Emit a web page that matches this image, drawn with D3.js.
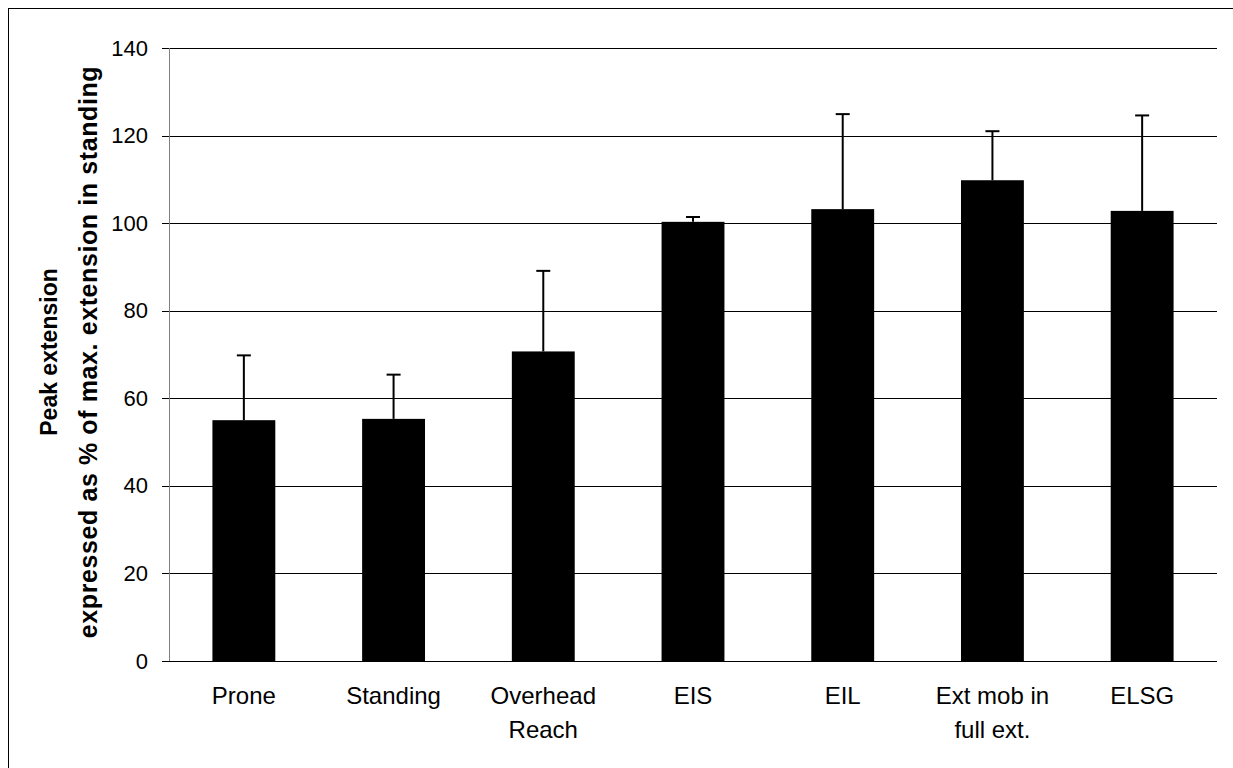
<!DOCTYPE html>
<html>
<head>
<meta charset="utf-8">
<script src="https://cdn.jsdelivr.net/npm/d3@7"></script>
<style>
  html, body { margin: 0; padding: 0; background: #fff; }
  svg { display: block; font-family: "Liberation Sans", Arial, sans-serif; }
</style>
</head>
<body>
<svg id="chart" width="1233" height="768"></svg>
<script>
// Peak extension per task, mean with upper SD
const categories = [["Prone"], ["Standing"], ["Overhead", "Reach"], ["EIS"], ["EIL"], ["Ext mob in", "full ext."], ["ELSG"]];
const means = [55.0, 55.3, 70.7, 100.3, 103.2, 109.8, 102.8];
const upperErr = [69.8, 65.4, 89.1, 101.4, 124.9, 121.0, 124.6];
const yTicks = [0, 20, 40, 60, 80, 100, 120, 140];
const yTitle = ["Peak extension", "expressed as % of max. extension in standing"];

const svg = d3.select("#chart");
const W = 1233, H = 768;
const plot = { left: 169, right: 1217, top: 48, bottom: 661 };

// outer frame
svg.append("rect")
  .attr("x", 8.5).attr("y", 8.5)
  .attr("width", W + 20).attr("height", H + 20)
  .attr("fill", "none").attr("stroke", "#000").attr("stroke-width", 1);

const keys = categories.map((c, i) => i);
const x = d3.scaleBand().domain(keys).range([plot.left, plot.right])
  .paddingInner(0.58).paddingOuter(0.29);
const y = d3.scaleLinear().domain([0, 140]).range([plot.bottom, plot.top]);

// gridlines with left tick stubs
const yAxis = d3.axisLeft(y).tickValues(yTicks)
  .tickSize(-(plot.right - plot.left))
  .tickFormat(d3.format("d"));
const gy = svg.append("g").attr("transform", `translate(${plot.left},0)`).call(yAxis);
gy.select(".domain").remove();
gy.selectAll(".tick line")
  .attr("x1", -7).attr("x2", plot.right - plot.left)
  .attr("stroke", "#000").attr("stroke-width", 1)
  .attr("shape-rendering", "crispEdges");
gy.selectAll(".tick text")
  .attr("fill", "#000").style("font-size", "22px")
  .attr("x", -21);

// vertical axis line
svg.append("line")
  .attr("x1", plot.left + 0.5).attr("x2", plot.left + 0.5)
  .attr("y1", plot.top).attr("y2", plot.bottom)
  .attr("stroke", "#808080").attr("stroke-width", 1);

// bars
svg.append("g").selectAll("rect").data(means).join("rect")
  .attr("x", (d, i) => x(i))
  .attr("width", x.bandwidth())
  .attr("y", d => y(d))
  .attr("height", d => y(0) - y(d))
  .attr("fill", "#000");

// error bars (upper only)
const eb = svg.append("g").attr("stroke", "#000").attr("stroke-width", 2);
means.forEach((m, i) => {
  const cx = x(i) + x.bandwidth() / 2;
  eb.append("line").attr("x1", cx).attr("x2", cx).attr("y1", y(m)).attr("y2", y(upperErr[i]));
  eb.append("line").attr("x1", cx - 7).attr("x2", cx + 7).attr("y1", y(upperErr[i])).attr("y2", y(upperErr[i]));
});

// category labels
const gx = svg.append("g");
categories.forEach((lines, i) => {
  const cx = x(i) + x.bandwidth() / 2;
  const t = gx.append("text").attr("text-anchor", "middle")
    .attr("x", cx).attr("y", 704).style("font-size", "24px").attr("fill", "#000");
  lines.forEach((s, j) => t.append("tspan").attr("x", cx).attr("dy", j === 0 ? 0 : 34).text(s));
});

// y-axis title, two rotated lines
const titleSizes = [23, 25];
const titleSpacing = [0, 0.6];
const titleX = [57, 97];
yTitle.forEach((s, j) => {
  svg.append("text")
    .attr("transform", `translate(${titleX[j]}, 352) rotate(-90)`)
    .attr("text-anchor", "middle").style("font-weight", "bold")
    .style("font-size", titleSizes[j] + "px")
    .style("letter-spacing", titleSpacing[j] + "px")
    .attr("fill", "#000").text(s);
});
</script>
</body>
</html>
